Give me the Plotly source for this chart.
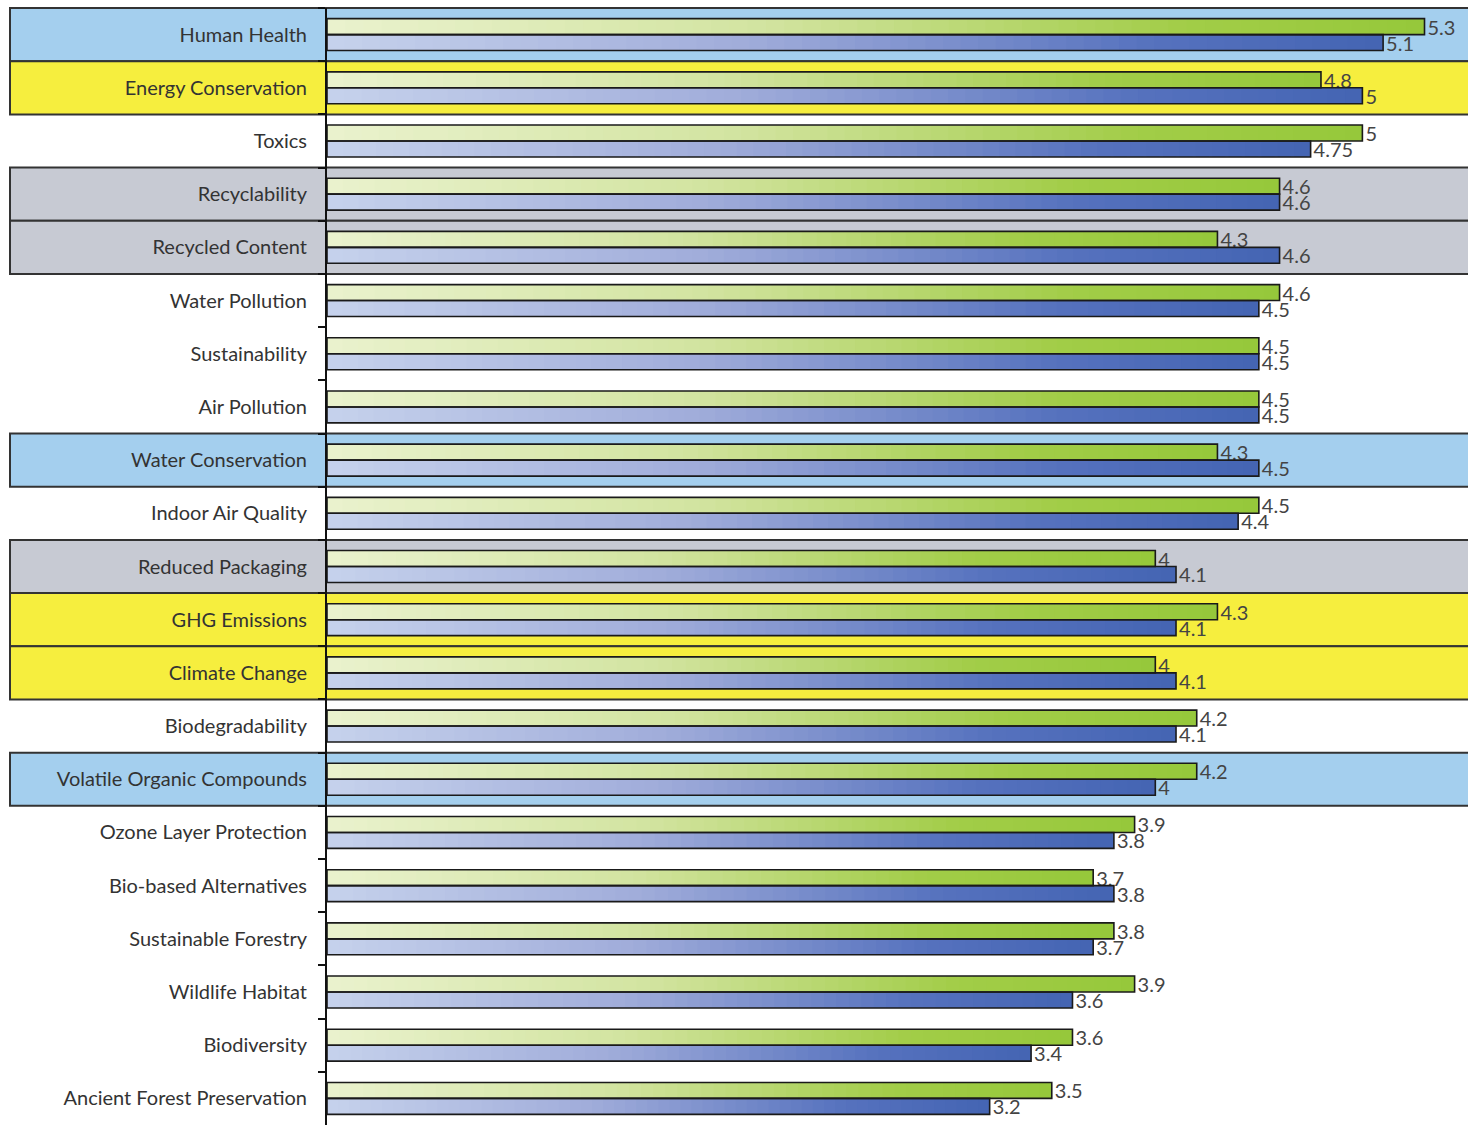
import plotly.graph_objects as go

# Survey topics, top to bottom
categories = [
    "Human Health", "Energy Conservation", "Toxics", "Recyclability",
    "Recycled Content", "Water Pollution", "Sustainability", "Air Pollution",
    "Water Conservation", "Indoor Air Quality", "Reduced Packaging",
    "GHG Emissions", "Climate Change", "Biodegradability",
    "Volatile Organic Compounds", "Ozone Layer Protection",
    "Bio-based Alternatives", "Sustainable Forestry", "Wildlife Habitat",
    "Biodiversity", "Ancient Forest Preservation",
]
green_values = [5.3, 4.8, 5, 4.6, 4.3, 4.6, 4.5, 4.5, 4.3, 4.5, 4,
                4.3, 4, 4.2, 4.2, 3.9, 3.7, 3.8, 3.9, 3.6, 3.5]
blue_values = [5.1, 5, 4.75, 4.6, 4.6, 4.5, 4.5, 4.5, 4.5, 4.4, 4.1,
               4.1, 4.1, 4.1, 4, 3.8, 3.8, 3.7, 3.6, 3.4, 3.2]
# Highlight band per row ("" = none)
row_bands = ["blue", "yellow", "", "gray", "gray", "", "", "", "blue", "",
             "gray", "yellow", "yellow", "", "blue", "", "", "", "", "", ""]

BAND_COLORS = {"blue": "#A4CFEE", "yellow": "#F6EE3E", "gray": "#C7CAD3"}
GREEN_STOPS = [(0.0, (234, 242, 206)), (0.4, (210, 228, 160)),
               (0.78, (162, 205, 72)), (1.0, (150, 200, 58))]
BLUE_STOPS = [(0.0, (198, 210, 236)), (0.4, (160, 172, 218)),
              (0.78, (86, 114, 190)), (1.0, (68, 100, 179))]
STEPS = 60

n = len(categories)
W, H = 1468, 1125
ML = 327


def lerp_color(stops, t):
    for (t0, c0), (t1, c1) in zip(stops[:-1], stops[1:]):
        if t <= t1:
            f = (t - t0) / (t1 - t0) if t1 > t0 else 0
            rgb = [round(a + (b - a) * f) for a, b in zip(c0, c1)]
            return "rgb({},{},{})".format(*rgb)
    return "rgb({},{},{})".format(*stops[-1][1])


def gradient_trace(values, stops, offset, name):
    """Each bar is split into STEPS slices along its own length, coloured
    from pale to saturated, giving a left-to-right gradient fill. Slices
    overlap their successor slightly so no seams show between them."""
    ys, bases, lens, colors = [], [], [], []
    for cat, v in zip(categories, values):
        step = v / STEPS
        for k in range(STEPS):
            base = step * k
            ys.append(cat)
            bases.append(base)
            lens.append(min(step * 1.8, v - base))
            colors.append(lerp_color(stops, (k + 0.5) / STEPS))
    return go.Bar(
        y=ys, x=lens, base=bases, orientation="h", width=0.3, offset=offset,
        marker=dict(color=colors, line=dict(width=0)), name=name,
        showlegend=False, hoverinfo="skip",
    )


def outline_trace(values, offset, name):
    return go.Bar(
        y=categories, x=values, orientation="h", width=0.3, offset=offset,
        marker=dict(color="rgba(0,0,0,0)", line=dict(color="#1a1a1a", width=1.6)),
        text=[f"{v:g}" for v in values], textposition="outside",
        textfont=dict(family="Lato, sans-serif", size=20, color="#444444"),
        constraintext="none", cliponaxis=False, name=name, showlegend=False,
    )


fig = go.Figure()
fig.add_trace(gradient_trace(green_values, GREEN_STOPS, -0.3, "Green"))
fig.add_trace(gradient_trace(blue_values, BLUE_STOPS, 0.0, "Blue"))
fig.add_trace(outline_trace(green_values, -0.3, "Green"))
fig.add_trace(outline_trace(blue_values, 0.0, "Blue"))

# Highlight bands behind the rows, spanning label area and plot
label_left = (10 - ML) / (W - ML)
shapes = []
for i, band in enumerate(row_bands):
    if not band:
        continue
    shapes.append(dict(
        type="rect", xref="paper", yref="paper",
        x0=label_left, x1=1.01, y0=(n - i - 1) / n, y1=(n - i) / n,
        fillcolor=BAND_COLORS[band], line=dict(color="#333333", width=2),
        layer="below",
    ))

fig.update_layout(
    width=W, height=H,
    margin=dict(l=ML, r=0, t=8, b=0),
    barmode="overlay",
    paper_bgcolor="white", plot_bgcolor="rgba(0,0,0,0)",
    shapes=shapes,
    font=dict(family="Lato, sans-serif", color="#333333"),
)
fig.update_xaxes(range=[0, 5.51], showgrid=False, zeroline=False,
                 showticklabels=False, ticks="")
fig.update_yaxes(
    type="category", categoryorder="array", categoryarray=categories,
    range=[n - 0.5, -0.5], showgrid=False, zeroline=False,
    showline=True, linecolor="#111111", linewidth=2,
    ticks="outside", tickson="boundaries", ticklen=7, tickwidth=2,
    tickcolor="#111111", ticklabelstandoff=14,
    tickfont=dict(family="Lato, sans-serif", size=20, color="#333333"),
)

fig.write_html("out.html")
